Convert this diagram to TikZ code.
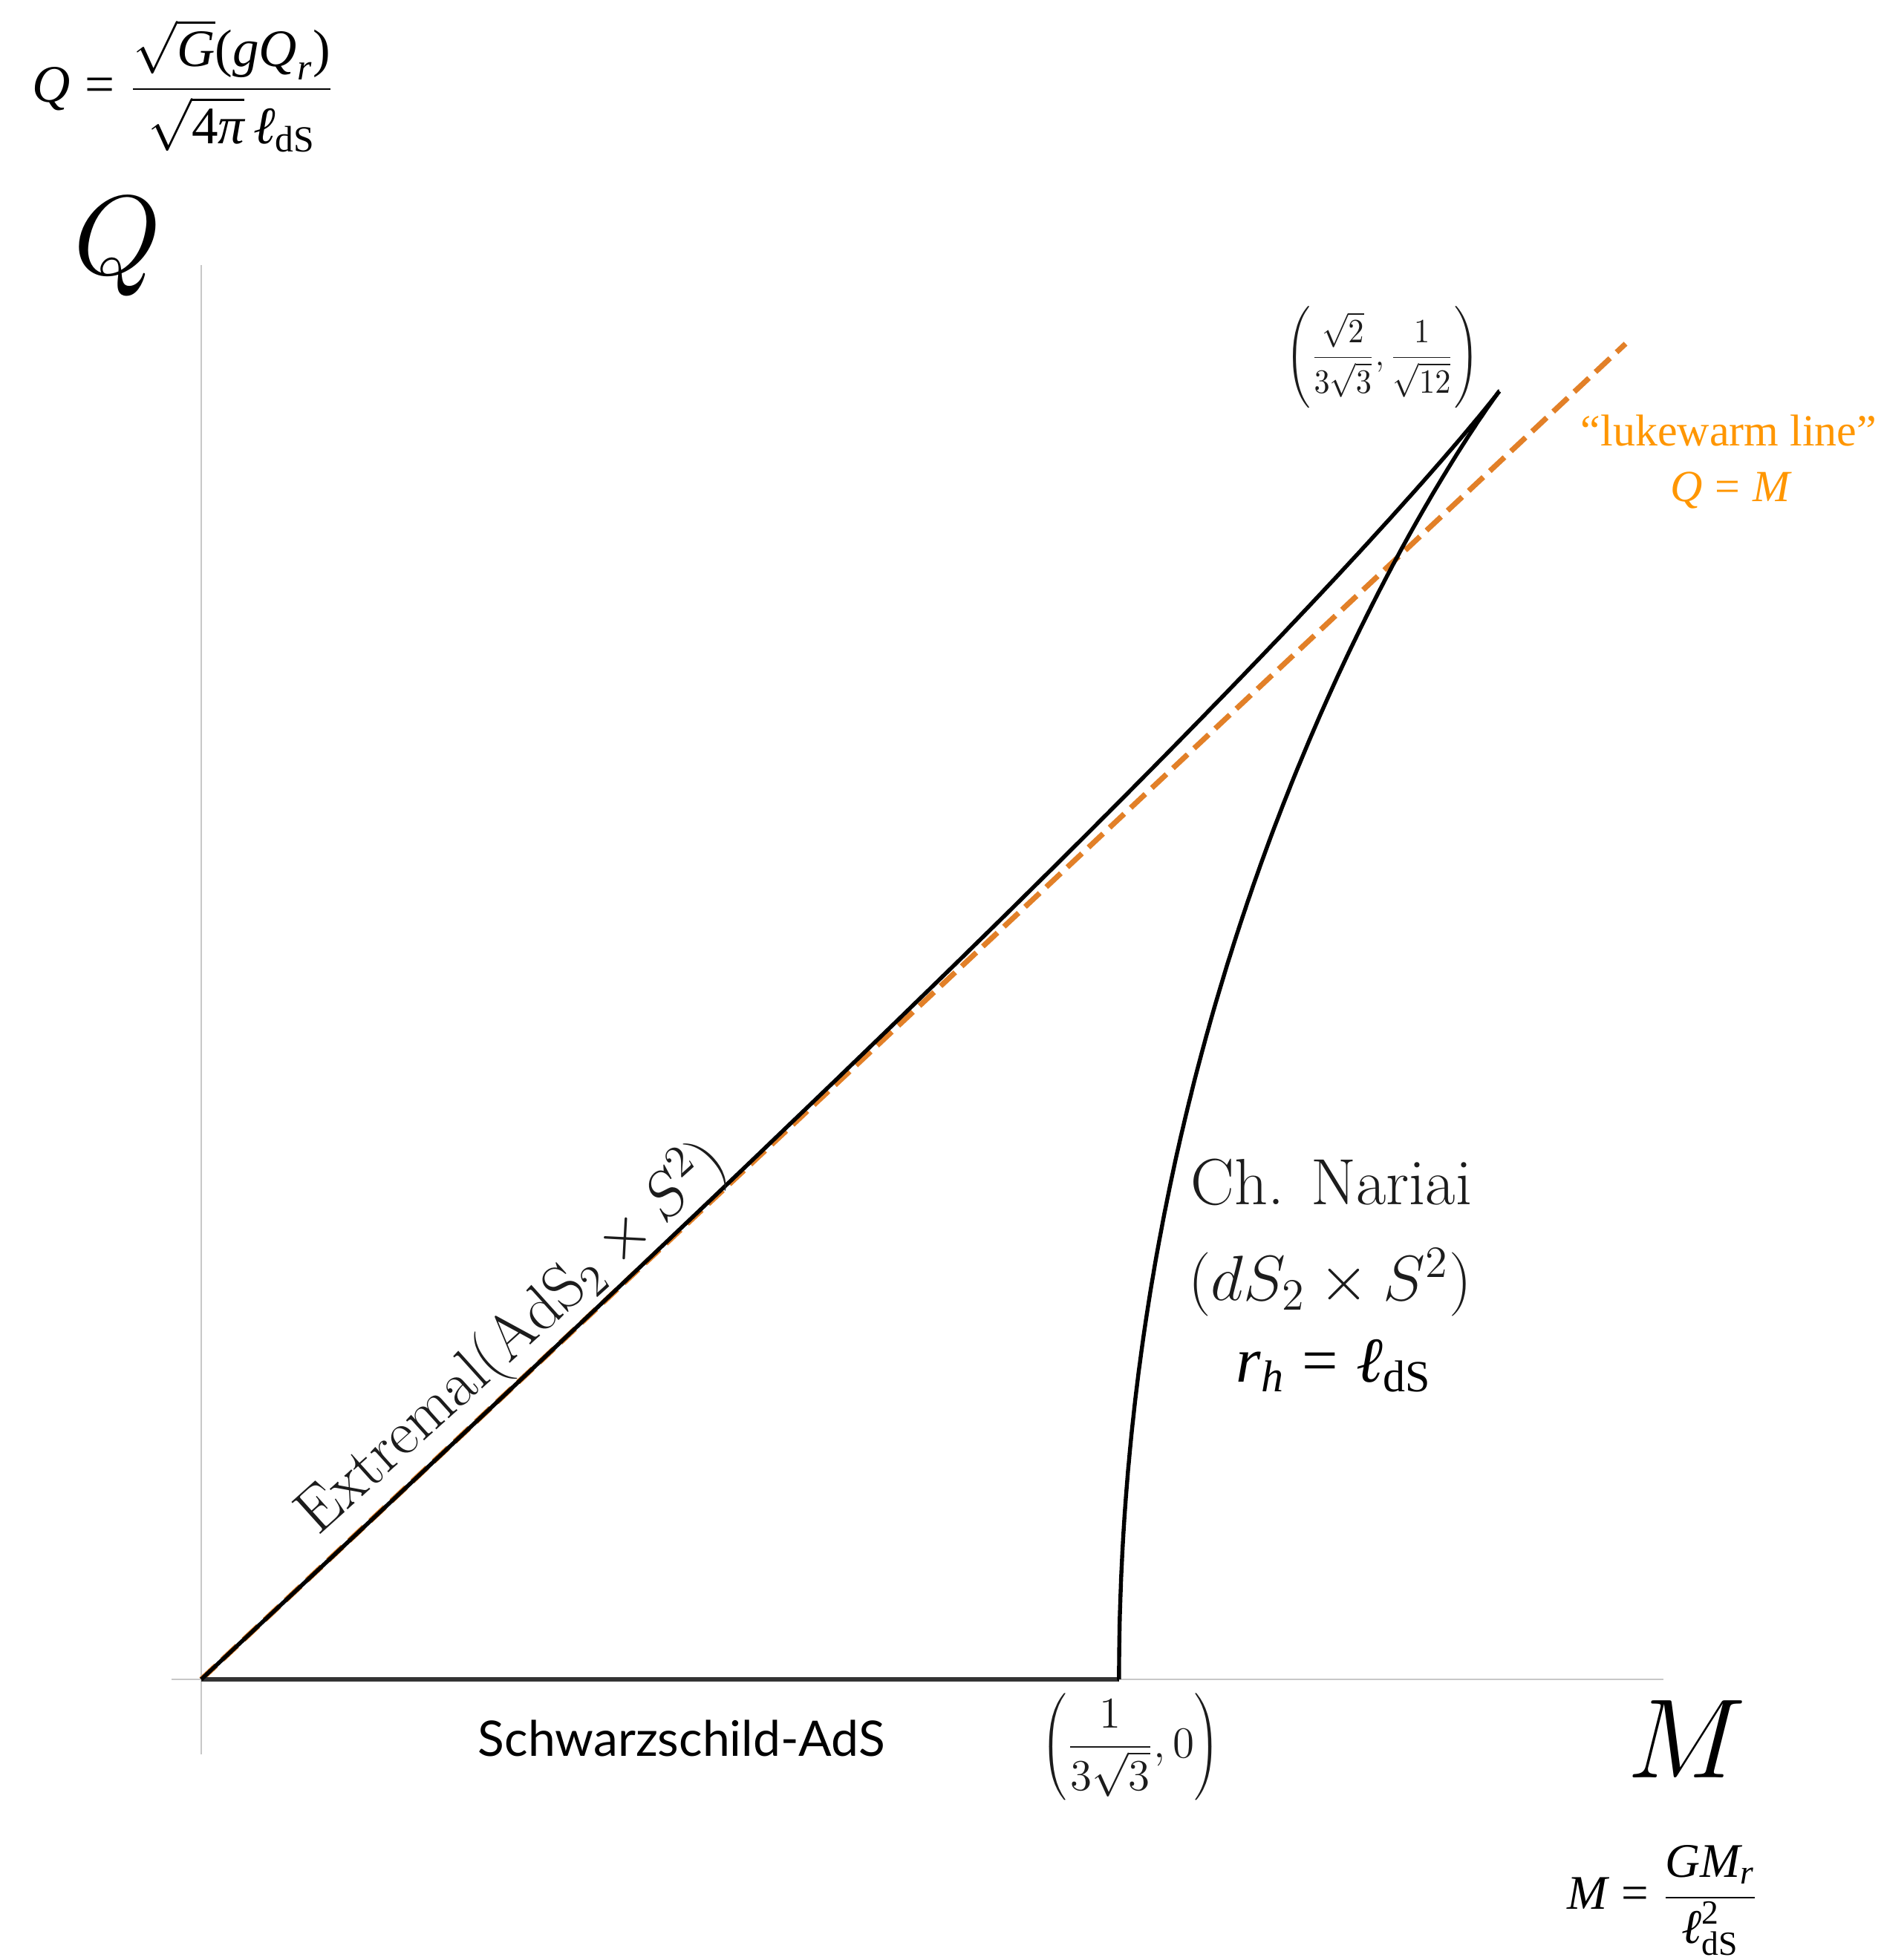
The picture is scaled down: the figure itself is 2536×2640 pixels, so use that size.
\documentclass[tikz,border=0pt]{standalone}
\usepackage{fix-cm}
\usepackage[no-math]{fontspec}
\usepackage{graphicx}
\newfontfamily\latofont{Lato}
\newfontfamily\timesfont{Liberation Serif}
\newcommand{\tI}[2]{\mbox{\timesfont\itshape\fontsize{#1}{#1}\selectfont #2}}
\newcommand{\tR}[2]{\mbox{\timesfont\fontsize{#1}{#1}\selectfont #2}}
\newcommand{\tEq}[1]{\mathrel{\tR{#1}{=}}}
\definecolor{lukeorange}{RGB}{255,150,0}
\definecolor{dashorange}{RGB}{226,128,40}
\definecolor{axisgray}{RGB}{200,200,200}
\definecolor{labelgray}{RGB}{28,28,28}
\tikzset{
  axisline/.style={draw=axisgray, line width=0.6pt},
  curveline/.style={draw=black, line width=1.35pt, line join=round},
  baseline/.style={draw=black!80, line width=1.5pt},
  lukeline/.style={draw=dashorange, line width=1.8pt, dash pattern=on 6.75pt off 3pt},
  cmlabel/.style={text=labelgray, inner sep=0pt},
  plain/.style={inner sep=0pt}
}
\begin{document}
\begin{tikzpicture}[x=0.25pt,y=0.25pt]
\useasboundingbox (0,0) rectangle (2536,2640);
% key points
\coordinate (O) at (271,378);
\coordinate (N) at (1506.9,378);
\coordinate (P) at (2018.9,2112.9);
\coordinate (L) at (2189,2177);
\coordinate (xs) at (231,378);
\coordinate (xe) at (2240,378);
\coordinate (ys) at (271,277);
\coordinate (ye) at (271,2283);
% axes
\draw[axisline] (xs) -- (xe);
\draw[axisline] (ys) -- (ye);
% lukewarm line
\draw[lukeline] (O) -- (L);
% Schwarzschild-AdS line
\draw[baseline] (O) -- (N);
% extremal and Nariai branches (r^2=(1-s^2)/3, M=r(1+2s^2)/3, Q=rs)
\begin{scope}[shift={(271,378)}, x=1605.5pt, y=1502.5pt]
  \draw[curveline] (O) -- plot[domain=1:0.707107, samples=200, variable=\s]
     ({sqrt(abs(1-\s*\s)/3)*(1+2*\s*\s)/3},{sqrt(abs(1-\s*\s)/3)*\s}) -- (P);
  \draw[curveline] (N) -- plot[domain=0:0.707107, samples=200, variable=\s]
     ({sqrt(abs(1-\s*\s)/3)*(1+2*\s*\s)/3},{sqrt(abs(1-\s*\s)/3)*\s}) -- (P);
\end{scope}
% axis labels
\node[plain, anchor=base, font=\fontsize{38}{40}\selectfont] (Qlab) at (158,2270) {$Q$};
\node[plain, anchor=base, font=\fontsize{38}{40}\selectfont] (Mlab) at (2271,245) {$M$};
% definitions
\node[plain, anchor=base west, font=\fontsize{17.75}{21}\selectfont] (Qdef) at (43,2502)
  {$\tI{17.75}{Q}\tEq{17.75}\displaystyle\frac{\sqrt{\tI{17.75}{G}}\tR{17.75}{(}\tI{17.75}{gQ}_{\tI{12.4}{r}}\tR{17.75}{)}}{\rule{0pt}{17pt}\sqrt{\tR{17.75}{4}\tI{17.75}{π}}\,\tI{17.75}{ℓ}_{\tR{12.4}{dS}}}$};
\node[plain, anchor=base west, font=\fontsize{16.25}{19}\selectfont] (Mdef) at (2110,68)
  {$\tI{16.25}{M}\tEq{16.25}\displaystyle\frac{\tI{16.25}{GM}_{\tI{11.4}{r}}}{\tI{16.25}{ℓ}^{\tR{11.4}{2}}_{\tR{11.4}{dS}}}$};
% lukewarm label
\node[plain, anchor=base, text=lukeorange, font=\timesfont\fontsize{15}{18}\selectfont] (lw1) at (2328,2039) {“lukewarm line”};
\node[plain, anchor=base, text=lukeorange, font=\fontsize{15}{18}\selectfont] (lw2) at (2330,1964)
  {$\tI{15}{Q}\tEq{15}\tI{15}{M}$};
% coordinate labels
\node[plain, text=labelgray] (cP) at (1861.5,2158.5)
  {\resizebox*{65.25pt}{34.25pt}{$\left(\displaystyle\frac{\sqrt{2}}{3\sqrt{3}},\frac{1}{\sqrt{12}}\right)$}};
\node[plain, text=labelgray, font=\fontsize{14.8}{18}\selectfont] (cN) at (1522.5,287)
  {$\left(\displaystyle\frac{1}{3\sqrt{3}},0\right)$};
% Nariai label
\node[cmlabel, anchor=base, font=\fontsize{22}{26}\selectfont] (nar1) at (1793,1017) {Ch. Nariai};
\node[cmlabel, anchor=base, font=\fontsize{21.5}{26}\selectfont] (nar2) at (1791,888) {$(dS_2\times S^2)$};
\node[plain, anchor=base, font=\fontsize{21.5}{25}\selectfont] (nar3) at (1796,778)
  {$\tI{21.5}{r}_{\tI{15}{h}}\tEq{21.5}\tI{21.5}{ℓ}_{\tR{15}{dS}}$};
% extremal label
\node[cmlabel, rotate=42, anchor=base west, font=\fontsize{21.3}{25}\selectfont] (ext) at (428,570) {Extremal$(\mathrm{AdS}_2\times S^2)$};
% Schwarzschild label
\node[plain, anchor=base, font=\latofont\fontsize{16.5}{20}\selectfont] (sch) at (918,274) {Schwarzschild-AdS};
\end{tikzpicture}
\end{document}
